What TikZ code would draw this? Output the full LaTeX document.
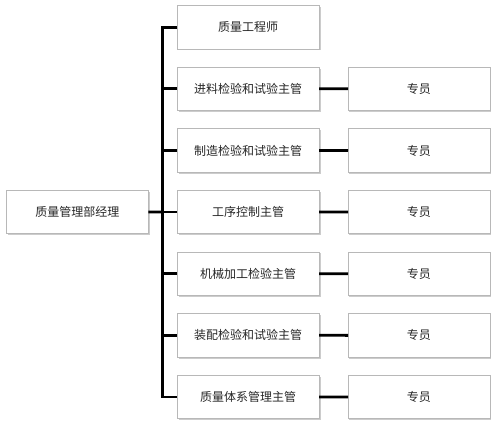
\documentclass[tikz,border=0pt]{standalone}
\usepackage{fontspec}
\setmainfont{Noto Sans CJK SC}
\usepackage{tikz}
\usetikzlibrary{matrix}
\usetikzlibrary{shadows}
\usetikzlibrary{calc}
\tikzset{
orgchart/.style={
  matrix of nodes,
  inner sep=0pt,
  outer sep=0pt,
  row sep=17.3pt,
  column sep=28pt,
  nodes={post},
},
post/.style={
  rectangle,
  draw=black!28,
  line width=0.8pt,
  fill=white,
  text=black!85,
  minimum width=142pt,
  minimum height=43.5pt,
  inner sep=0pt,
  font=\fontsize{12}{15}\selectfont,
  drop shadow={shadow xshift=1.5pt,shadow yshift=-1.5pt,fill=black!40,opacity=0.5}
},
link/.style={line width=2.8pt,black,line join=miter}
}
\begin{document}
\begin{tikzpicture}
\useasboundingbox (0,0) rectangle (499pt,-421pt);
\matrix (org) [orgchart, anchor=north west] at (6pt,-5pt)
{
 & 质量工程师 & \\
 & 进料检验和试验主管 & 专员 \\
 & 制造检验和试验主管 & 专员 \\
质量管理部经理 & 工序控制主管 & 专员 \\
 & 机械加工检验主管 & 专员 \\
 & 装配检验和试验主管 & 专员 \\
 & 质量体系管理主管 & 专员 \\
};
% the bus
\coordinate (bus) at ($(org-4-1.east)!.5!(org-4-2.west)$);
\draw[link] (org-4-1.east) -- (bus);
\draw[link] (org-1-2.west) -- (bus |- org-1-2.west) -- (bus |- org-7-2.west) -- (org-7-2.west);
\foreach \r in {2,...,6}
{
  \draw[link] (bus |- org-\r-2.west) -- (org-\r-2.west);
}
% the staff links
\foreach \r in {2,...,7}
{
  \draw[link] (org-\r-2.east) -- (org-\r-3.west);
}
\end{tikzpicture}
\end{document}
